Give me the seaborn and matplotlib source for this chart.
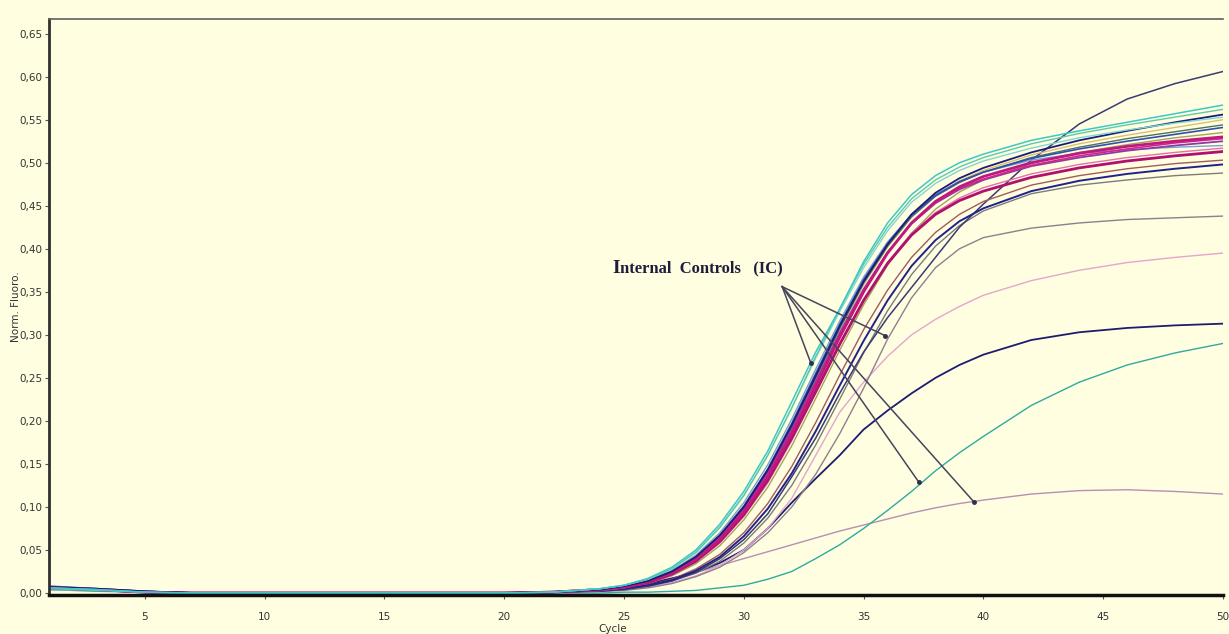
import numpy as np
import pandas as pd
import matplotlib
matplotlib.use("Agg")
import matplotlib.pyplot as plt
import seaborn as sns

# --------------------------
# Data
# --------------------------
cycles = [1, 3, 5, 7, 10, 15, 20, 22, 24, 25, 26, 27, 28, 29, 30,
          31, 32, 33, 34, 35, 36, 37, 38, 39, 40, 42, 44, 46, 48, 50]

flat = [0, 0, 0, 0]  # cycles 7, 10, 15, 20

b_cyan = [0.006, 0.004, 0.001] + flat + [0.001, 0.005, 0.009, 0.017, 0.030, 0.050, 0.080, 0.118, 0.165, 0.222, 0.280, 0.330, 0.385, 0.430, 0.463, 0.485, 0.500, 0.510, 0.526, 0.537, 0.547, 0.557, 0.567]
b_seagreen = [0.005, 0.003, 0.001] + flat + [0.001, 0.005, 0.009, 0.016, 0.028, 0.047, 0.076, 0.113, 0.160, 0.215, 0.275, 0.330, 0.382, 0.425, 0.458, 0.480, 0.495, 0.506, 0.522, 0.534, 0.544, 0.553, 0.562]
b_navy = [0.007, 0.005, 0.002] + flat + [0.001, 0.004, 0.008, 0.014, 0.025, 0.042, 0.067, 0.100, 0.143, 0.195, 0.252, 0.310, 0.362, 0.405, 0.440, 0.465, 0.482, 0.494, 0.512, 0.526, 0.537, 0.547, 0.556]
b_khaki = [0.004, 0.003, 0.001] + flat + [0.001, 0.004, 0.007, 0.013, 0.023, 0.039, 0.063, 0.096, 0.138, 0.190, 0.247, 0.305, 0.358, 0.402, 0.437, 0.462, 0.479, 0.491, 0.509, 0.522, 0.532, 0.541, 0.550]
b_lightcyan = [0.006, 0.004, 0.001] + flat + [0.001, 0.005, 0.009, 0.016, 0.029, 0.048, 0.077, 0.114, 0.160, 0.215, 0.273, 0.327, 0.378, 0.421, 0.454, 0.476, 0.491, 0.502, 0.517, 0.529, 0.538, 0.546, 0.553]
b_darkgreen = [0.005, 0.003, 0.001] + flat + [0.001, 0.004, 0.007, 0.013, 0.024, 0.040, 0.065, 0.098, 0.140, 0.192, 0.250, 0.307, 0.360, 0.403, 0.437, 0.461, 0.477, 0.489, 0.506, 0.518, 0.528, 0.536, 0.544]
b_blue = [0.008, 0.005, 0.002] + flat + [0.001, 0.004, 0.008, 0.014, 0.025, 0.042, 0.067, 0.101, 0.144, 0.197, 0.255, 0.312, 0.364, 0.406, 0.439, 0.462, 0.478, 0.489, 0.505, 0.516, 0.525, 0.533, 0.541]
b_olive = [0.005, 0.003, 0.001] + flat + [0.001, 0.003, 0.006, 0.011, 0.020, 0.034, 0.055, 0.085, 0.123, 0.171, 0.226, 0.282, 0.335, 0.381, 0.418, 0.446, 0.466, 0.480, 0.499, 0.512, 0.521, 0.529, 0.535]
b_lightblue = [0.004, 0.003, 0.001] + flat + [0.001, 0.004, 0.008, 0.015, 0.026, 0.044, 0.070, 0.105, 0.149, 0.202, 0.260, 0.316, 0.367, 0.408, 0.440, 0.463, 0.478, 0.489, 0.503, 0.511, 0.515, 0.518, 0.520]
b_purple = [0.007, 0.004, 0.001] + flat + [0.001, 0.004, 0.008, 0.014, 0.024, 0.041, 0.065, 0.098, 0.140, 0.190, 0.246, 0.302, 0.353, 0.396, 0.429, 0.453, 0.469, 0.480, 0.496, 0.506, 0.514, 0.520, 0.525]
b_pink = [0.005, 0.003, 0.001] + flat + [0.001, 0.003, 0.006, 0.012, 0.021, 0.036, 0.058, 0.089, 0.128, 0.177, 0.232, 0.288, 0.340, 0.384, 0.418, 0.442, 0.459, 0.471, 0.487, 0.498, 0.506, 0.512, 0.517]
b_brown = [0.005, 0.003, 0.001] + flat + [0.001, 0.003, 0.005, 0.009, 0.016, 0.028, 0.045, 0.070, 0.104, 0.147, 0.198, 0.253, 0.306, 0.352, 0.390, 0.419, 0.440, 0.455, 0.474, 0.485, 0.493, 0.499, 0.503]
b_navy2 = [0.006, 0.004, 0.001] + flat + [0.001, 0.003, 0.005, 0.009, 0.015, 0.026, 0.042, 0.066, 0.098, 0.139, 0.188, 0.241, 0.293, 0.340, 0.380, 0.410, 0.432, 0.447, 0.467, 0.479, 0.487, 0.493, 0.498]
b_magenta = [0.006, 0.004, 0.001] + flat + [0.001, 0.004, 0.007, 0.013, 0.023, 0.039, 0.062, 0.094, 0.135, 0.185, 0.240, 0.297, 0.350, 0.395, 0.430, 0.455, 0.472, 0.484, 0.500, 0.511, 0.519, 0.525, 0.530]
b_magenta2 = [0.007, 0.005, 0.002] + flat + [0.001, 0.004, 0.008, 0.014, 0.024, 0.040, 0.064, 0.097, 0.138, 0.188, 0.244, 0.300, 0.352, 0.396, 0.430, 0.454, 0.470, 0.481, 0.497, 0.508, 0.516, 0.523, 0.528]
b_magenta3 = [0.006, 0.004, 0.001] + flat + [0.001, 0.004, 0.007, 0.012, 0.022, 0.037, 0.060, 0.091, 0.131, 0.180, 0.234, 0.289, 0.340, 0.383, 0.416, 0.440, 0.456, 0.467, 0.483, 0.494, 0.502, 0.508, 0.513]

# slower / atypical wells
s_gray49 = [0.005, 0.003, 0.001] + flat + [0.001, 0.003, 0.005, 0.008, 0.014, 0.023, 0.037, 0.058, 0.087, 0.125, 0.172, 0.225, 0.279, 0.328, 0.370, 0.403, 0.427, 0.444, 0.464, 0.474, 0.480, 0.485, 0.488]
s_navyhigh = [0.006, 0.004, 0.001] + flat + [0.001, 0.002, 0.004, 0.008, 0.014, 0.024, 0.040, 0.062, 0.092, 0.135, 0.180, 0.232, 0.280, 0.320, 0.355, 0.390, 0.425, 0.452, 0.503, 0.545, 0.574, 0.592, 0.606]
s_gray44 = [0.005, 0.003, 0.001] + flat + [0.001, 0.002, 0.003, 0.006, 0.011, 0.019, 0.030, 0.047, 0.070, 0.100, 0.138, 0.185, 0.238, 0.295, 0.343, 0.378, 0.400, 0.413, 0.424, 0.430, 0.434, 0.436, 0.438]
s_pink39 = [0.005, 0.003, 0.001] + flat + [0.001, 0.002, 0.004, 0.007, 0.012, 0.020, 0.032, 0.050, 0.075, 0.110, 0.160, 0.210, 0.245, 0.275, 0.300, 0.318, 0.333, 0.346, 0.363, 0.375, 0.384, 0.390, 0.395]
s_navy31 = [0.007, 0.004, 0.001] + flat + [0.001, 0.004, 0.007, 0.011, 0.017, 0.024, 0.035, 0.050, 0.075, 0.105, 0.133, 0.160, 0.190, 0.212, 0.232, 0.250, 0.265, 0.277, 0.294, 0.303, 0.308, 0.311, 0.313]
s_teal29 = [0.004, 0.002, 0.001] + flat + [0.000, 0.000, 0.001, 0.001, 0.002, 0.003, 0.006, 0.009, 0.016, 0.025, 0.040, 0.056, 0.075, 0.096, 0.118, 0.142, 0.163, 0.182, 0.218, 0.245, 0.265, 0.279, 0.290]
s_mauve12 = [0.005, 0.003, 0.001] + flat + [0.001, 0.003, 0.005, 0.010, 0.017, 0.024, 0.032, 0.040, 0.048, 0.056, 0.064, 0.072, 0.079, 0.086, 0.093, 0.099, 0.104, 0.108, 0.115, 0.119, 0.120, 0.118, 0.115]

# (name, values, colour, linewidth) -- drawn in this order
wells = [
    ("mauve12", s_mauve12, "#b78fb5", 1.0),
    ("teal29", s_teal29, "#2eaaa2", 1.0),
    ("navy31", s_navy31, "#1c1c70", 1.3),
    ("pink39", s_pink39, "#e3a6cc", 1.0),
    ("gray44", s_gray44, "#8e7f8e", 1.0),
    ("gray49", s_gray49, "#7c7c7c", 1.0),
    ("navyhigh", s_navyhigh, "#3a3a74", 1.1),
    ("olive", b_olive, "#a3a35a", 1.0),
    ("brown", b_brown, "#a15c5c", 1.0),
    ("navy2", b_navy2, "#22228a", 1.4),
    ("khaki", b_khaki, "#d8c070", 1.0),
    ("lightblue", b_lightblue, "#72a2d2", 1.0),
    ("darkgreen", b_darkgreen, "#52705e", 1.0),
    ("blue", b_blue, "#3050b0", 1.2),
    ("pink", b_pink, "#e070b0", 1.0),
    ("purple", b_purple, "#8a3aa8", 1.3),
    ("magenta3", b_magenta3, "#b0106e", 2.0),
    ("magenta2", b_magenta2, "#d02592", 1.2),
    ("magenta", b_magenta, "#c0187e", 2.0),
    ("navy", b_navy, "#1c1c78", 1.3),
    ("lightcyan", b_lightcyan, "#80d6d6", 1.0),
    ("seagreen", b_seagreen, "#5fc9a8", 1.0),
    ("cyan", b_cyan, "#3cc8c8", 1.1),
]

# annotation pointer lines (Internal Controls)
ic_apex = (31.6, 0.356)
ic_tips_x = [32.8, 35.9, 37.3, 39.6]
ic_tips_y = [0.267, 0.299, 0.129, 0.106]

# --------------------------
# Plot
# --------------------------
bg = "#FFFEE0"
fig = plt.figure(figsize=(12.29, 6.34), dpi=100, facecolor=bg)
ax = fig.add_axes([49 / 1229, 39 / 634, 1174 / 1229, 576 / 634])
ax.set_facecolor(bg)

for name, vals, col, lw in wells:
    d = pd.DataFrame({"Cycle": cycles, "Fluoro": vals})
    sns.lineplot(data=d, x="Cycle", y="Fluoro", color=col, linewidth=lw, ax=ax)

for tx, ty in zip(ic_tips_x, ic_tips_y):
    ax.plot([ic_apex[0], tx], [ic_apex[1], ty], color="#45455c", lw=1.1, zorder=5)
    ax.plot([tx], [ty], marker="o", ms=2.5, color="#303048", zorder=6)

t1 = ax.text(24.5, 0.372, "I", family="Liberation Serif", fontweight="bold",
             fontsize=14, color="#1e1e3c", va="baseline", ha="left")
ax.annotate("nternal  Controls   (IC)", xy=(1, 0), xycoords=t1,
            xytext=(0.5, 3.0), textcoords="offset points",
            family="Liberation Serif", fontweight="bold", fontsize=12,
            color="#1e1e3c", va="baseline", ha="left")

ax.set_xlim(1, 50)
ax.set_ylim(-0.0023, 0.667)
ax.set_xticks([5, 10, 15, 20, 25, 30, 35, 40, 45, 50])
ax.set_yticks(np.round(np.arange(0, 0.651, 0.05), 2))
ax.set_yticklabels([f"{v:.2f}".replace(".", ",") for v in np.arange(0, 0.651, 0.05)])
ax.tick_params(axis="both", labelsize=7.5, labelcolor="#333333", color="#555555",
               length=3, width=0.8, direction="out", pad=2)
ax.tick_params(axis="x", pad=9)

ax.set_xlabel("Cycle", fontsize=7.5, color="#333333")
ax.set_ylabel("Norm. Fluoro.", fontsize=7.5, color="#333333")
ax.xaxis.set_label_coords(0.48, -0.050)
ax.yaxis.set_label_coords(-0.024, 0.5)

ax.spines["right"].set_visible(False)
ax.spines["top"].set_color("#606060")
ax.spines["top"].set_linewidth(1.2)
ax.spines["left"].set_color("#303030")
ax.spines["left"].set_linewidth(2.0)
ax.spines["bottom"].set_color("#111111")
ax.spines["bottom"].set_linewidth(2.5)

fig.savefig("out.png", dpi=100, facecolor=bg)
